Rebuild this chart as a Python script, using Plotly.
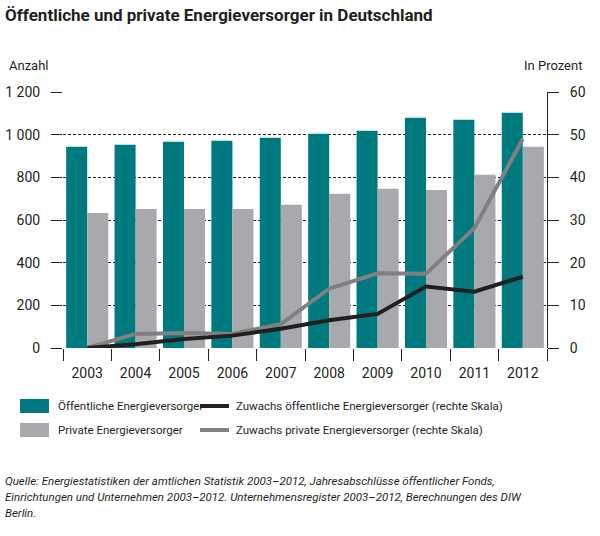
import plotly.graph_objects as go

years = ["2003", "2004", "2005", "2006", "2007", "2008", "2009", "2010", "2011", "2012"]
oeffentlich = [943, 953, 967, 971, 985, 1004, 1018, 1079, 1070, 1103]
privat = [633, 652, 652, 652, 671, 723, 746, 741, 812, 943]
zuwachs_oeff = [0, 0.9, 2.1, 2.9, 4.5, 6.5, 8.0, 14.4, 13.2, 16.7]
zuwachs_priv = [0, 3.3, 3.5, 3.3, 5.6, 13.9, 17.5, 17.4, 28.1, 49.0]

left_ticks = [0, 200, 400, 600, 800, 1000, 1200]
right_ticks = [0, 10, 20, 30, 40, 50, 60]

TEAL = "#007A7E"
GRAY = "#A7A9AC"
BLACK_LINE = "#231F20"
GRAY_LINE = "#808080"
TXT = "#231F20"
FONT = "Roboto, Liberation Sans, sans-serif"

fig = go.Figure()
fig.add_trace(go.Bar(x=years, y=oeffentlich, marker_color=TEAL, marker_line_width=0,
                     name="Öffentliche Energieversorger"))
fig.add_trace(go.Bar(x=years, y=privat, marker_color=GRAY, marker_line_width=0,
                     name="Private Energieversorger"))
fig.add_trace(go.Scatter(x=years, y=zuwachs_priv, yaxis="y2", mode="lines",
                         line=dict(color=GRAY_LINE, width=4),
                         name="Zuwachs private Energieversorger (rechte Skala)"))
fig.add_trace(go.Scatter(x=years, y=zuwachs_oeff, yaxis="y2", mode="lines",
                         line=dict(color=BLACK_LINE, width=4),
                         name="Zuwachs öffentliche Energieversorger (rechte Skala)"))

fig.update_layout(
    width=600, height=536,
    margin=dict(l=63, r=53, t=92, b=188),
    paper_bgcolor="white", plot_bgcolor="white",
    showlegend=False,
    barmode="group", bargap=0.13, bargroupgap=0,
    separators=", ",
    font=dict(family=FONT, size=13, color=TXT),
    xaxis=dict(type="category", tickson="boundaries", ticks="outside", ticklen=12,
               tickcolor="#231F20", tickwidth=1, showgrid=False, showline=False,
               tickfont=dict(size=14), zeroline=False, ticklabelstandoff=15,
               automargin=False),
    yaxis=dict(range=[0, 1200], tickvals=left_ticks, ticks="outside", ticklen=11,
               tickcolor="#231F20", tickwidth=1, showgrid=True, gridcolor="#231F20",
               griddash="3px,2px", gridwidth=1, zeroline=False, showline=False,
               tickformat=",d", tickfont=dict(size=14), ticklabelstandoff=8,
               automargin=False),
    yaxis2=dict(range=[0, 60], tickvals=right_ticks, overlaying="y", side="right",
                ticks="outside", ticklen=11, tickcolor="#231F20", tickwidth=1,
                showgrid=False, zeroline=False, showline=True, linecolor="#231F20",
                linewidth=1, tickfont=dict(size=14), ticklabelstandoff=8,
                automargin=False),
)

def px(x):
    return (x - 63) / 484

def py(y):
    return (348 - y) / 256

annotations = [
    dict(text="<b>Öffentliche und private Energieversorger in Deutschland</b>",
         x=px(3), y=py(15), xanchor="left", yanchor="middle", font=dict(size=17)),
    dict(text="Anzahl", x=px(7), y=py(65), xanchor="left", yanchor="middle", font=dict(size=13)),
    dict(text="In Prozent", x=px(584), y=py(65), xanchor="right", yanchor="middle", font=dict(size=13)),
    dict(text="Öffentliche Energieversorger", x=px(56), y=py(406), xanchor="left", yanchor="middle", font=dict(size=11.5)),
    dict(text="Private Energieversorger", x=px(56), y=py(430), xanchor="left", yanchor="middle", font=dict(size=11.5)),
    dict(text="Zuwachs öffentliche Energieversorger (rechte Skala)", x=px(234), y=py(406), xanchor="left", yanchor="middle", font=dict(size=11.5)),
    dict(text="Zuwachs private Energieversorger (rechte Skala)", x=px(234), y=py(430), xanchor="left", yanchor="middle", font=dict(size=11.5)),
    dict(text="<i>Quelle: Energiestatistiken der amtlichen Statistik 2003–2012, Jahresabschlüsse öffentlicher Fonds,</i>",
         x=px(3), y=py(481), xanchor="left", yanchor="middle", font=dict(size=11.5)),
    dict(text="<i>Einrichtungen und Unternehmen 2003–2012. Unternehmensregister 2003–2012, Berechnungen des DIW</i>",
         x=px(3), y=py(497), xanchor="left", yanchor="middle", font=dict(size=11.5)),
    dict(text="<i>Berlin.</i>",
         x=px(3), y=py(513), xanchor="left", yanchor="middle", font=dict(size=11.5)),
]
for a in annotations:
    a.update(xref="paper", yref="paper", showarrow=False)

shapes = [
    dict(type="rect", x0=px(20), x1=px(49), y0=py(399), y1=py(413), fillcolor=TEAL, line_width=0),
    dict(type="rect", x0=px(20), x1=px(49), y0=py(423), y1=py(437), fillcolor=GRAY, line_width=0),
    dict(type="line", x0=px(200), x1=px(229), y0=py(406), y1=py(406), line=dict(color=BLACK_LINE, width=4)),
    dict(type="line", x0=px(200), x1=px(229), y0=py(430), y1=py(430), line=dict(color=GRAY_LINE, width=4)),
]
for s in shapes:
    s.update(xref="paper", yref="paper")

fig.update_layout(annotations=annotations, shapes=shapes)
fig.write_html("out.html")
